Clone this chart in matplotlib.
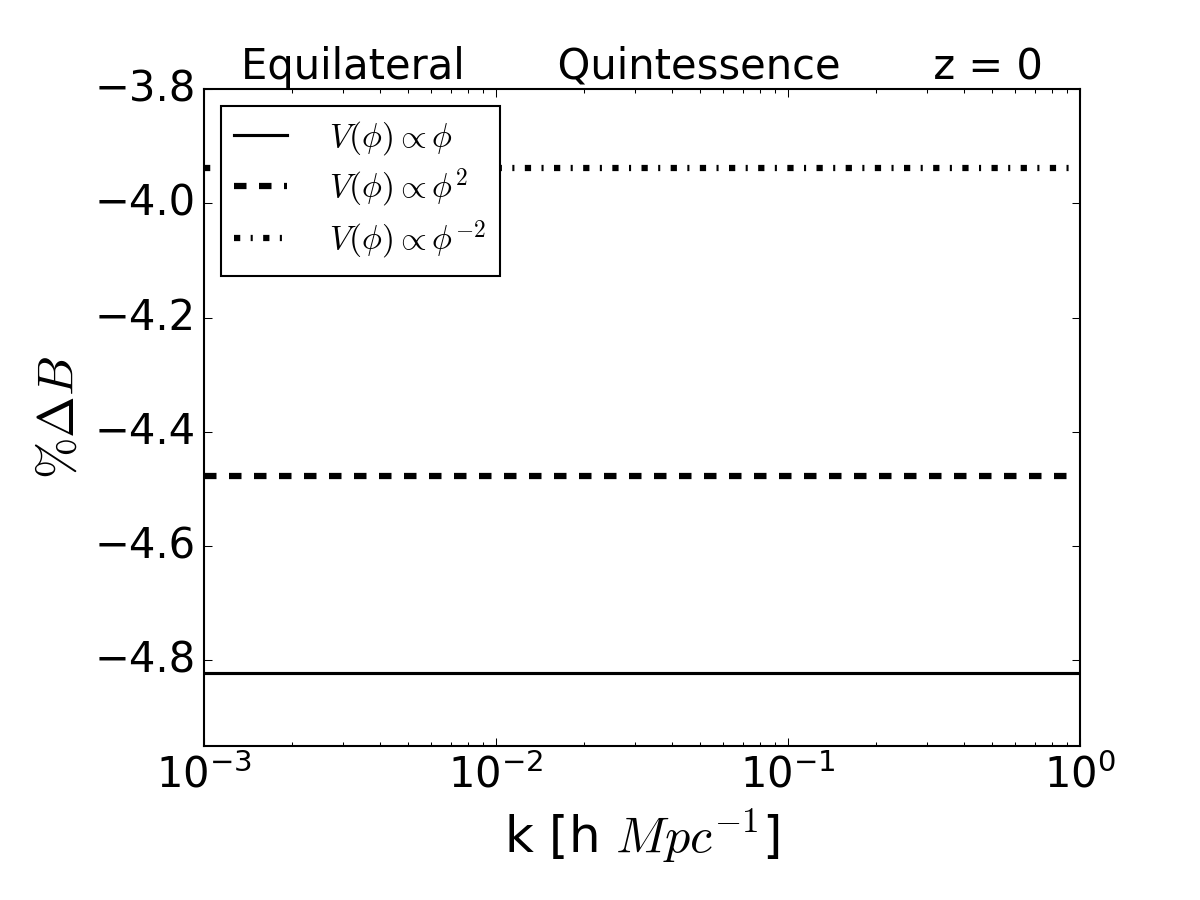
import matplotlib
matplotlib.use("Agg")
import matplotlib.pyplot as plt

# k [h/Mpc] sample points and percent change in the bispectrum
k_values = [0.001, 0.01, 0.1, 1.0]
dB_phi = [-4.822, -4.822, -4.822, -4.822]
dB_phi2 = [-4.478, -4.478, -4.478, -4.478]
dB_phi_m2 = [-3.938, -3.938, -3.938, -3.938]

labels = [r"$V(\phi)\propto\phi$",
          r"$V(\phi)\propto\phi^2$",
          r"$V(\phi)\propto\phi^{-2}$"]

plt.style.use("classic")
plt.rcParams["mathtext.fontset"] = "cm"

fig = plt.figure(figsize=(8, 6), facecolor="white")
ax = fig.add_subplot(111)
fig.subplots_adjust(left=0.17, right=0.9, bottom=0.171, top=0.901)

ax.plot(k_values, dB_phi, "k-", lw=1.5, label=labels[0])
ax.plot(k_values, dB_phi2, "k--", lw=3, label=labels[1])
ax.plot(k_values, dB_phi_m2, "k-.", lw=3, label=labels[2])

ax.set_xscale("log")
ax.set_xlim(1e-3, 1)
ax.set_ylim(-4.95, -3.8)
ax.set_yticks([-4.8, -4.6, -4.4, -4.2, -4.0, -3.8])
ax.tick_params(labelsize=20)

ax.set_xlabel(r"k [h $Mpc^{-1}$]", fontsize=24)
ax.set_ylabel(r"$\%\Delta B$", fontsize=24)
ax.set_title("Equilateral" + " " * 7 + "Quintessence" + " " * 7 + "z = 0",
             fontsize=20)

ax.legend(loc="upper left", fontsize=16, numpoints=1, handlelength=1.6,
          handletextpad=1.25, labelspacing=0.28, borderpad=0.4)

fig.savefig("out.png", dpi=150, facecolor="white")
